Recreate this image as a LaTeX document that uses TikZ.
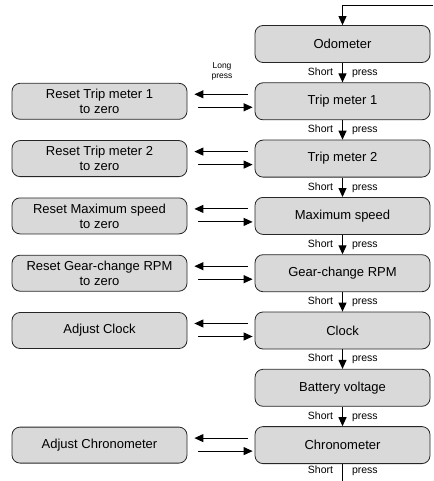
\documentclass[tikz,border=0pt]{standalone}
\usepackage{fontspec}
\setmainfont{Liberation Sans}
\usetikzlibrary{arrows.meta, positioning}

\begin{document}
\begin{tikzpicture}[x=1pt, y=-1pt,
  mode/.style={draw=black!85, fill=black!15, rounded corners=8pt, line width=0.8pt,
    minimum width=175pt, minimum height=37pt, align=center, text=black,
    font=\fontsize{13}{15}\selectfont},
  act/.style={mode, minimum height=36pt},
  key/.style={inner sep=0pt, text height=7.5pt, text depth=2pt, text=black,
    font=\fontsize{10.5}{12}\selectfont},
  flow/.style={-{Triangle[length=9pt,width=8pt]}, line width=1pt}]
  \useasboundingbox (0,0) rectangle (433,481);

  % main menu
  \node (odo) [mode] at (342.5,44) {Odometer};
  \node (tm1) [mode] at (342.5,101.3) {Trip meter 1};
  \node (tm2) [mode] at (342.5,158.6) {Trip meter 2};
  \node (vmax) [mode] at (342.5,215.9) {Maximum speed};
  \node (rpm) [mode] at (342.5,273.2) {Gear-change RPM};
  \node (clk) [mode] at (342.5,330.5) {Clock};
  \node (bat) [mode] at (342.5,387.8) {Battery voltage};
  \node (chr) [mode] at (342.5,445.1) {Chronometer};

  % long press actions
  \node (rt1) [act] at (99.5,101.3) {Reset Trip meter 1\\to zero};
  \node (rt2) [act] at (99.5,158.6) {Reset Trip meter 2\\to zero};
  \node (rvmax) [act] at (99.5,215.9) {Reset Maximum speed\\to zero};
  \node (rrpm) [act] at (99.5,273.2) {Reset Gear-change RPM\\to zero};
  \node (aclk) [act] at (99.5,330.5) {Adjust Clock};
  \node (achr) [act] at (99.5,445.1) {Adjust Chronometer};

  \node (lp) [inner sep=0pt, align=center, font=\fontsize{8.5}{10}\selectfont] at (222,71) {Long\\press};

  \coordinate (start) at (433,6);
  \coordinate (end) at (342.5,481);

  \draw [flow] (start) -| (odo);

  \path [flow]
    (odo) edge node [key, left=9pt] {Short} node [key, right=9pt] {press} (tm1)
    (tm1) edge node [key, left=9pt] {Short} node [key, right=9pt] {press} (tm2)
    (tm2) edge node [key, left=9pt] {Short} node [key, right=9pt] {press} (vmax)
    (vmax) edge node [key, left=9pt] {Short} node [key, right=9pt] {press} (rpm)
    (rpm) edge node [key, left=9pt] {Short} node [key, right=9pt] {press} (clk)
    (clk) edge node [key, left=9pt] {Short} node [key, right=9pt] {press} (bat)
    (bat) edge node [key, left=9pt] {Short} node [key, right=9pt] {press} (chr);
  \path [line width=1pt]
    (chr) edge node [key, left=9pt, pos=0.4] {Short} node [key, right=9pt, pos=0.4] {press} (end);

  \path [flow, shorten <=7pt, shorten >=7pt]
    ([yshift=7pt]tm1.west) edge ([yshift=7pt]rt1.east)
    ([yshift=7pt]tm2.west) edge ([yshift=7pt]rt2.east)
    ([yshift=7pt]vmax.west) edge ([yshift=7pt]rvmax.east)
    ([yshift=7pt]rpm.west) edge ([yshift=7pt]rrpm.east)
    ([yshift=7pt]clk.west) edge ([yshift=7pt]aclk.east)
    ([yshift=7pt]chr.west) edge ([yshift=7pt]achr.east);
  \path [flow, shorten <=11pt, shorten >=2pt]
    ([yshift=-6pt]rt1.east) edge ([yshift=-6pt]tm1.west)
    ([yshift=-6pt]rt2.east) edge ([yshift=-6pt]tm2.west)
    ([yshift=-6pt]rvmax.east) edge ([yshift=-6pt]vmax.west)
    ([yshift=-6pt]rrpm.east) edge ([yshift=-6pt]rpm.west)
    ([yshift=-6pt]aclk.east) edge ([yshift=-6pt]clk.west)
    ([yshift=-6pt]achr.east) edge ([yshift=-6pt]chr.west);
\end{tikzpicture}
\end{document}
